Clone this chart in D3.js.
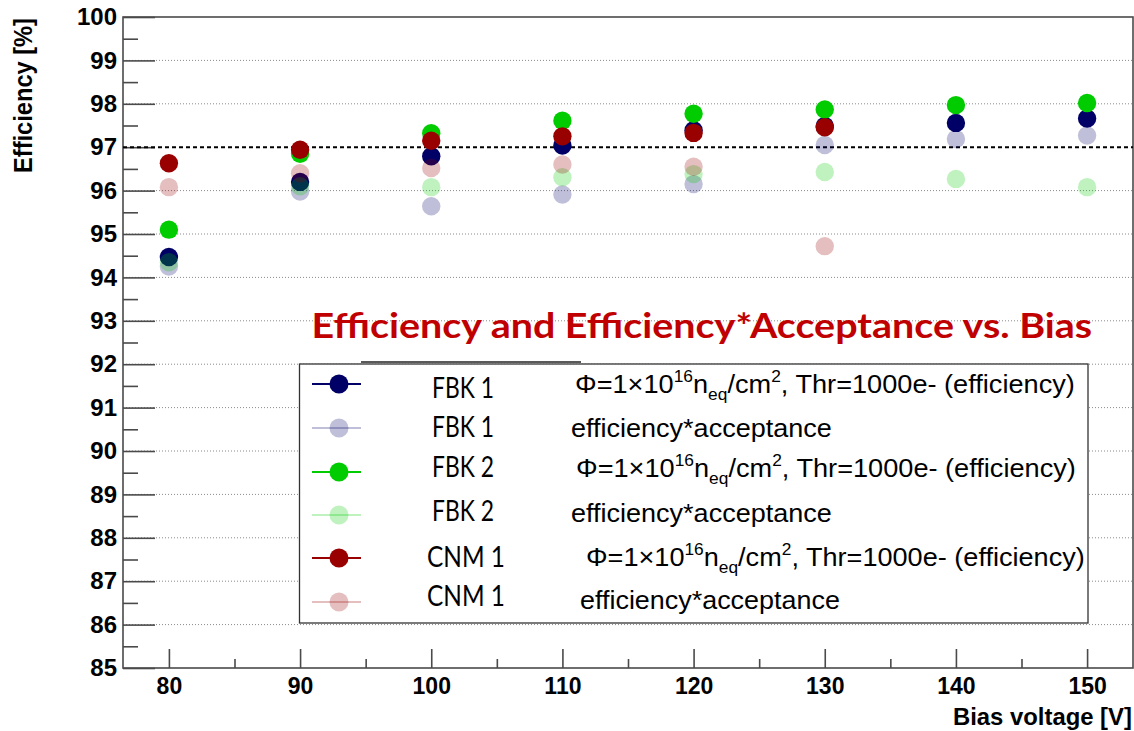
<!DOCTYPE html>
<html><head><meta charset="utf-8">
<script src="https://cdn.jsdelivr.net/npm/d3@7"></script>
<style>body{margin:0;background:#fff}svg{display:block}</style>
</head><body><svg id="c" width="1134" height="731"></svg>
<script>
// ---------- data ----------
const voltages = [80, 90, 100, 110, 120, 130, 140, 150];
const fbk1Eff = [94.47, 96.20, 96.79, 97.04, 97.39, 97.49, 97.56, 97.66];
const fbk1Acc = [94.25, 95.98, 95.64, 95.91, 96.15, 97.05, 97.19, 97.27];
const fbk2Eff = [95.10, 96.85, 97.32, 97.61, 97.77, 97.87, 97.97, 98.02];
const fbk2Acc = [94.35, 96.10, 96.08, 96.31, 96.38, 96.43, 96.27, 96.08];
const cnm1Eff = [96.63, 96.94, 97.15, 97.25, 97.33, 97.46];
const cnm1Acc = [96.08, 96.40, 96.52, 96.60, 96.55, 94.72];
const seriesNames = ["FBK 1", "FBK 1", "FBK 2", "FBK 2", "CNM 1", "CNM 1"];
const seriesKinds = ["eff", "acc", "eff", "acc", "eff", "acc"];
const yTickValues = [85, 86, 87, 88, 89, 90, 91, 92, 93, 94, 95, 96, 97, 98, 99, 100];
const yMinorValues = [85.5, 86.5, 87.5, 88.5, 89.5, 90.5, 91.5, 92.5, 93.5, 94.5, 95.5, 96.5, 97.5, 98.5, 99.5];
const xTickValues = [80, 90, 100, 110, 120, 130, 140, 150];
const xMinorValues = [85, 95, 105, 115, 125, 135, 145];
const referenceLevel = 97;
const titleText = "Efficiency and Efficiency*Acceptance vs. Bias";
const yTitle = "Efficiency [%]";
const xTitle = "Bias voltage [V]";
const accText = "efficiency*acceptance";

// ---------- layout ----------
const svg = d3.select("#c");
svg.append("rect").attr("width", 1134).attr("height", 731).attr("fill", "#fff");
const L = 123, R = 1133, T = 17, B = 668;
const x = d3.scaleLinear().domain([76.5, 153.5]).range([L, R]);
const y = d3.scaleLinear().domain([85, 100]).range([B, T]);
const axisColor = "#4a4a4a";

const series = [
  {vals: fbk1Eff, color: "#000066", op: 1},
  {vals: fbk1Acc, color: "#000066", op: 0.25},
  {vals: fbk2Eff, color: "#00cc00", op: 1},
  {vals: fbk2Acc, color: "#00cc00", op: 0.25},
  {vals: cnm1Eff, color: "#990000", op: 1},
  {vals: cnm1Acc, color: "#990000", op: 0.25}
].map((s, i) => ({...s, name: seriesNames[i], kind: seriesKinds[i],
  pts: s.vals.map((v, j) => ({x: voltages[j], y: v}))}));

function fitText(t, x0, y0, w) {
  const bw = t.node().getBBox().width;
  t.attr("x", 0).attr("y", 0)
   .attr("transform", `translate(${x0},${y0}) scale(${w / bw},1)`);
}

// grid lines
svg.append("g").selectAll("line")
  .data(yTickValues.filter(v => v !== 85 && v !== 100 && v !== referenceLevel))
  .join("line")
  .attr("x1", L).attr("x2", R)
  .attr("y1", d => y(d)).attr("y2", d => y(d))
  .attr("stroke", "#8a8a8a").attr("stroke-width", 1).attr("stroke-dasharray", "1,2");

// frame
svg.append("rect").attr("x", L).attr("y", T).attr("width", R - L).attr("height", B - T)
  .attr("fill", "none").attr("stroke", axisColor).attr("stroke-width", 1.6);

// y ticks
const gyMaj = svg.append("g").attr("transform", `translate(${L},0)`)
  .call(d3.axisRight(y).tickValues(yTickValues).tickSize(32).tickFormat(""));
const gyMin = svg.append("g").attr("transform", `translate(${L},0)`)
  .call(d3.axisRight(y).tickValues(yMinorValues).tickSize(15).tickFormat(""));
const gyLab = svg.append("g").attr("transform", `translate(${L},0)`)
  .call(d3.axisLeft(y).tickValues(yTickValues).tickSize(0).tickPadding(6).tickFormat(d3.format("d")));

// x ticks
const gxMaj = svg.append("g").attr("transform", `translate(0,${B})`)
  .call(d3.axisTop(x).tickValues(xTickValues).tickSize(19).tickFormat(""));
const gxMin = svg.append("g").attr("transform", `translate(0,${B})`)
  .call(d3.axisTop(x).tickValues(xMinorValues).tickSize(9).tickFormat(""));
const gxLab = svg.append("g").attr("transform", `translate(0,${B})`)
  .call(d3.axisBottom(x).tickValues(xTickValues).tickSize(0).tickPadding(10).tickFormat(d3.format("d")));

[gyMaj, gyMin, gyLab, gxMaj, gxMin, gxLab].forEach(g => {
  g.select(".domain").remove();
  g.selectAll("line").attr("stroke", axisColor).attr("stroke-width", 1.6);
});
gyLab.selectAll("text").attr("font-family", "Liberation Sans, Arial, sans-serif")
  .attr("font-weight", "bold").attr("font-size", 24).attr("fill", "#000");
gxLab.selectAll("text").attr("font-family", "Liberation Sans, Arial, sans-serif")
  .attr("font-weight", "bold").attr("font-size", 23).attr("fill", "#000");

// reference dashed line
svg.append("line").attr("x1", L).attr("x2", R)
  .attr("y1", y(referenceLevel)).attr("y2", y(referenceLevel))
  .attr("stroke", "#000").attr("stroke-width", 2).attr("stroke-dasharray", "4,3");

// axis titles
const yt = svg.append("text").text(yTitle)
  .attr("font-family", "Liberation Sans, Arial, sans-serif").attr("font-weight", "bold")
  .attr("font-size", 25).attr("text-anchor", "middle");
{
  const bw = yt.node().getBBox().width;
  yt.attr("transform", `translate(32,95.5) rotate(-90) scale(${155 / bw},1)`);
}
const xt = svg.append("text").text(xTitle)
  .attr("font-family", "Liberation Sans, Arial, sans-serif").attr("font-weight", "bold")
  .attr("font-size", 23);
fitText(xt, 953, 725, 179);

// data points
series.forEach(s => {
  svg.append("g").selectAll("circle").data(s.pts).join("circle")
    .attr("cx", d => x(d.x)).attr("cy", d => y(d.y)).attr("r", 9.2)
    .attr("fill", s.color).attr("fill-opacity", s.op);
});

// title
const tt = svg.append("text").text(titleText)
  .attr("font-family", "Lato, 'Open Sans', sans-serif").attr("font-weight", "bold")
  .attr("font-size", 34).attr("fill", "#C00000");
fitText(tt, 311.5, 337.5, 781);

// legend
const lg = svg.append("g");
lg.append("rect").attr("x", 299.5).attr("y", 364).attr("width", 788.5).attr("height", 259)
  .attr("fill", "#fff").attr("stroke", "#333").attr("stroke-width", 1.3);
lg.append("line").attr("x1", 361).attr("x2", 581).attr("y1", 362).attr("y2", 362)
  .attr("stroke", "#222").attr("stroke-width", 1.6);
const rowY = [384, 428, 472, 515, 558, 602];
const nameX = [432, 432, 432, 432, 427, 427];
const nameW = [62, 62, 62, 62, 78, 78];
const nameBase = [398, 437, 477, 521, 567, 606];
const descX = [575, 571, 576, 571, 586, 580];
const descW = [500, 261, 500, 261, 499, 260];
const descBase = [393, 437, 477, 522, 566, 609];

series.forEach((s, i) => {
  const g = lg.append("g");
  g.append("line").attr("x1", 312).attr("x2", 361).attr("y1", rowY[i]).attr("y2", rowY[i])
    .attr("stroke", s.color).attr("stroke-opacity", s.op).attr("stroke-width", 2);
  g.append("circle").attr("cx", 339).attr("cy", rowY[i]).attr("r", 9.5)
    .attr("fill", s.color).attr("fill-opacity", s.op);
  const nt = g.append("text").text(s.name)
    .attr("font-family", "Lato, 'Open Sans', sans-serif").attr("font-size", 28).attr("fill", "#000");
  fitText(nt, nameX[i], nameBase[i], nameW[i]);
  const dt = g.append("text").attr("font-family", "Liberation Sans, Arial, sans-serif")
    .attr("font-size", 25).attr("fill", "#000");
  if (s.kind === "acc") {
    dt.text(accText);
  } else {
    dt.append("tspan").text("\u03A6=1\u00D710");
    dt.append("tspan").text("16").attr("font-size", 16).attr("dy", -11);
    dt.append("tspan").text("n").attr("dy", 11);
    dt.append("tspan").text("eq").attr("font-size", 16).attr("dy", 7);
    dt.append("tspan").text("/cm").attr("dy", -7);
    dt.append("tspan").text("2").attr("font-size", 16).attr("dy", -11);
    dt.append("tspan").text(", Thr=1000e- (efficiency)").attr("dy", 11);
  }
  fitText(dt, descX[i], descBase[i], descW[i]);
});
</script></body></html>
